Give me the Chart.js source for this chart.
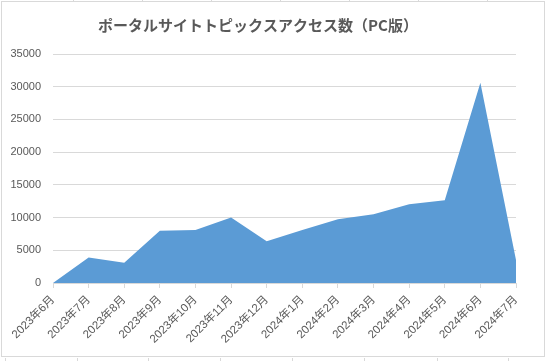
<!DOCTYPE html>
<html>
<head>
<meta charset="utf-8">
<script src="https://cdn.jsdelivr.net/npm/chart.js@4"></script>
<style>
  html, body { margin: 0; padding: 0; background: #ffffff; }
  #wrap { position: relative; width: 546px; height: 361px; overflow: hidden; }
  #c { position: absolute; left: 0; top: 0; }
  #frame { position: absolute; left: 1px; top: 1px; width: 542px; height: 354px; border: 1px solid #d9d9d9; pointer-events: none; }
  .cell { position: absolute; width: 1px; background: #d9d9d9; }
</style>
</head>
<body>
<div id="wrap">
  <canvas id="c" width="546" height="361"></canvas>
  <div id="frame"></div>
</div>
<script>
const categories = ['2023年6月','2023年7月','2023年8月','2023年9月','2023年10月','2023年11月','2023年12月',
  '2024年1月','2024年2月','2024年3月','2024年4月','2024年5月','2024年6月','2024年7月'];
const accessCounts = [0, 3900, 3100, 8000, 8100, 10000, 6400, 8100, 9750, 10500, 12050, 12650, 30600, 3500];
const yTicks = [0, 5000, 10000, 15000, 20000, 25000, 30000, 35000];
const titleText = 'ポータルサイトトピックスアクセス数（PC版）';

// spreadsheet cell borders peeking outside the chart frame
const wrap = document.getElementById('wrap');
[73, 142, 211, 280, 349, 418, 487].forEach(x => {
  const d = document.createElement('div'); d.className = 'cell';
  d.style.left = x + 'px'; d.style.top = '0px'; d.style.height = '1px'; wrap.appendChild(d);
});
[5, 77, 148, 220, 292, 364, 437, 508].forEach(x => {
  const d = document.createElement('div'); d.className = 'cell';
  d.style.left = x + 'px'; d.style.top = '358px'; d.style.height = '3px'; wrap.appendChild(d);
});

const FONT = '"Liberation Sans", "Noto Sans CJK JP", sans-serif';
const GRAY = '#595959';

new Chart(document.getElementById('c'), {
  type: 'line',
  data: {
    labels: categories,
    datasets: [{
      data: accessCounts,
      fill: 'origin',
      backgroundColor: '#5b9bd5',
      borderColor: '#5b9bd5',
      borderWidth: 0,
      pointRadius: 0,
      tension: 0
    }]
  },
  options: {
    responsive: false,
    animation: false,
    devicePixelRatio: 1,
    layout: { padding: { left: 0, right: 30, top: 0, bottom: 0 } },
    plugins: {
      legend: { display: false },
      tooltip: { enabled: false },
      title: {
        display: true,
        text: titleText,
        color: GRAY,
        font: { family: '"Noto Sans CJK JP", sans-serif', size: 15, weight: 'bold', lineHeight: 1.2 },
        padding: { top: 16, bottom: 20 }
      }
    },
    scales: {
      x: {
        type: 'category',
        offset: false,
        grid: { drawOnChartArea: false, drawTicks: true, tickLength: 5, color: '#d9d9d9' },
        border: { display: true, color: '#d9d9d9', width: 1 },
        ticks: {
          color: GRAY,
          font: { family: FONT, size: 11.5 },
          maxRotation: 45, minRotation: 45,
          autoSkip: false,
          padding: 5
        },
        afterFit: s => { s.height = 78; }
      },
      y: {
        min: 0, max: 35000,
        afterBuildTicks: s => { s.ticks = yTicks.map(v => ({ value: v })); },
        grid: { color: '#d9d9d9', drawTicks: false },
        border: { display: false },
        ticks: {
          color: GRAY,
          font: { family: FONT, size: 11 },
          padding: 12,
          callback: v => String(v)
        },
        afterFit: s => { s.width = 53; }
      }
    }
  }
});
</script>
</body>
</html>
